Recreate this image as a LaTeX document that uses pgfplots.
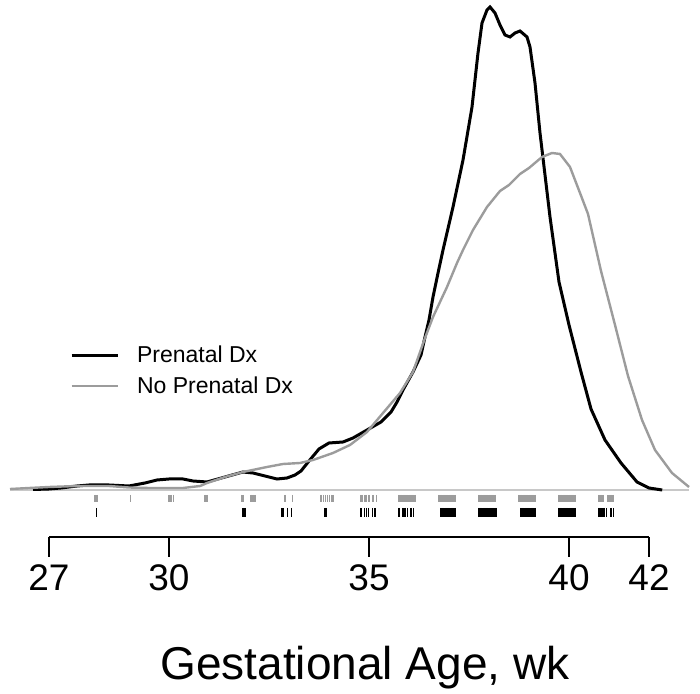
\documentclass[border=0pt]{standalone}
\usepackage{fontspec}
\setmainfont{Liberation Sans}
\usepackage{pgfplots}
\pgfplotsset{compat=1.18}
\definecolor{curvegray}{HTML}{9C9C9C}
\definecolor{zerogray}{HTML}{C8C8C8}
\begin{document}
\begin{tikzpicture}
\begin{axis}[
  at={(0pt,0pt)}, anchor=south west,
  width=350pt, height=347pt, scale only axis,
  xmin=25.775, xmax=43.275, ymin=-204, ymax=490,
  hide axis, clip=false,
  legend style={draw=none, fill=none, inner sep=0pt, outer sep=0pt,
    at={(axis cs:27.525,119)}, anchor=west,
    font=\fontsize{11.5}{13}\selectfont, row sep=1.4pt, cells={anchor=west},
    /tikz/every odd column/.append style={column sep=7pt}},
  legend image code/.code={\draw[#1] (0pt,0pt) -- (23pt,0pt);},
]
% zero line
\addplot[zerogray, line width=0.6pt, forget plot] coordinates {(26.025,0) (43.0,0)};
% Prenatal Dx density
\addplot[black, line width=1.5pt] coordinates {
(26.6,0.5) (27.0,1) (27.3,2) (27.7,4) (28.0,5) (28.5,5) (29.0,4) (29.4,7) (29.7,10)
(30.0,11) (30.35,11) (30.6,9) (30.95,8) (31.4,13) (31.85,18) (32.1,17) (32.4,14)
(32.7,11) (32.95,12) (33.15,15) (33.3,19) (33.5,29) (33.75,41) (34.0,47) (34.35,48)
(34.6,52) (34.95,60) (35.3,68) (35.55,78) (35.7,88) (35.85,100) (36.1,118) (36.3,135)
(36.4,153) (36.5,170) (36.6,193) (36.72,216) (36.85,240) (37.1,283) (37.35,330)
(37.575,383) (37.725,437) (37.825,467) (37.95,480) (38.025,483) (38.15,477)
(38.275,465) (38.4,455) (38.525,453) (38.65,457) (38.775,459) (38.95,453)
(39.025,443) (39.15,407) (39.275,357) (39.4,315) (39.525,273) (39.75,208)
(40.0,165) (40.3,118) (40.55,81) (40.9,50) (41.3,27) (41.7,8) (42.0,2) (42.33,0)
};
\addlegendentry{Prenatal Dx}
% No Prenatal Dx density
\addplot[curvegray, line width=1.2pt] coordinates {
(26.025,1) (26.5,2) (27.0,3) (27.7,4) (28.5,4) (29.0,2.5) (29.5,2) (30.35,2)
(30.78,4) (30.95,7) (31.4,13) (31.85,18) (32.45,23) (32.85,26) (33.275,27)
(33.6,30) (34.1,37) (34.525,45) (34.95,58) (35.35,77) (35.775,97) (36.1,118)
(36.4,152) (36.6,173) (36.95,203) (37.2,227) (37.35,240) (37.6,260) (37.95,283)
(38.275,299) (38.5,305) (38.775,316) (39.0,322) (39.325,333) (39.575,337)
(39.775,336) (40.025,323) (40.275,297) (40.475,276) (40.8,219) (41.15,165)
(41.475,114) (41.825,70) (42.15,40) (42.575,17) (43.0,3)
};
\addlegendentry{No Prenatal Dx}
% rug: No Prenatal Dx
\addplot[curvegray, only marks, mark=|, mark size=1.75pt, mark options={line width=0.6pt}, forget plot] coordinates {
(28.15,-8.5) (28.2,-8.5) (29.03,-8.5) (30.0,-8.5) (30.05,-8.5) (30.12,-8.5)
(30.9,-8.5) (30.95,-8.5) (31.82,-8.5) (31.85,-8.5) (32.05,-8.5) (32.1,-8.5) (32.15,-8.5)
(32.9,-8.5) (33.08,-8.5)
(33.78,-8.5) (33.82,-8.5) (33.86,-8.5) (33.92,-8.5) (33.97,-8.5) (34.02,-8.5) (34.06,-8.5) (34.1,-8.5)
(34.78,-8.5) (34.81,-8.5) (34.84,-8.5) (34.9,-8.5) (34.93,-8.5) (34.99,-8.5) (35.02,-8.5) (35.1,-8.5) (35.18,-8.5)
(35.73,-8.5) (35.76,-8.5) (35.79,-8.5) (35.82,-8.5) (35.85,-8.5) (35.88,-8.5) (35.91,-8.5) (35.94,-8.5)
(35.97,-8.5) (36.0,-8.5) (36.03,-8.5) (36.06,-8.5) (36.09,-8.5) (36.12,-8.5) (36.15,-8.5)
(36.73,-8.5) (36.76,-8.5) (36.79,-8.5) (36.82,-8.5) (36.85,-8.5) (36.88,-8.5) (36.91,-8.5) (36.94,-8.5)
(36.97,-8.5) (37.0,-8.5) (37.03,-8.5) (37.06,-8.5) (37.09,-8.5) (37.12,-8.5) (37.15,-8.5)
(37.73,-8.5) (37.76,-8.5) (37.79,-8.5) (37.82,-8.5) (37.85,-8.5) (37.88,-8.5) (37.91,-8.5) (37.94,-8.5)
(37.97,-8.5) (38.0,-8.5) (38.03,-8.5) (38.06,-8.5) (38.09,-8.5) (38.12,-8.5) (38.15,-8.5)
(38.73,-8.5) (38.76,-8.5) (38.79,-8.5) (38.82,-8.5) (38.85,-8.5) (38.88,-8.5) (38.91,-8.5) (38.94,-8.5)
(38.97,-8.5) (39.0,-8.5) (39.03,-8.5) (39.06,-8.5) (39.09,-8.5) (39.12,-8.5) (39.15,-8.5)
(39.73,-8.5) (39.76,-8.5) (39.79,-8.5) (39.82,-8.5) (39.85,-8.5) (39.88,-8.5) (39.91,-8.5) (39.94,-8.5)
(39.97,-8.5) (40.0,-8.5) (40.03,-8.5) (40.06,-8.5) (40.09,-8.5) (40.12,-8.5) (40.15,-8.5)
(40.73,-8.5) (40.76,-8.5) (40.79,-8.5) (40.82,-8.5) (40.85,-8.5) (40.97,-8.5) (41.0,-8.5) (41.03,-8.5)
(41.06,-8.5) (41.1,-8.5)
};
% rug: Prenatal Dx
\addplot[black, only marks, mark=|, mark size=2.25pt, mark options={line width=0.6pt}, forget plot] coordinates {
(28.18,-22.5) (31.85,-22.5) (31.9,-22.5) (32.82,-22.5) (32.85,-22.5) (32.97,-22.5) (33.07,-22.5)
(33.9,-22.5) (33.93,-22.5)
(34.78,-22.5) (34.81,-22.5) (34.88,-22.5) (34.93,-22.5) (34.98,-22.5) (35.09,-22.5) (35.15,-22.5)
(35.73,-22.5) (35.76,-22.5) (35.84,-22.5) (35.87,-22.5) (35.9,-22.5) (35.96,-22.5) (36.05,-22.5) (36.12,-22.5)
(36.78,-22.5) (36.81,-22.5) (36.84,-22.5) (36.87,-22.5) (36.9,-22.5) (36.93,-22.5) (36.96,-22.5)
(36.99,-22.5) (37.02,-22.5) (37.05,-22.5) (37.08,-22.5) (37.11,-22.5) (37.15,-22.5)
(37.73,-22.5) (37.76,-22.5) (37.79,-22.5) (37.82,-22.5) (37.85,-22.5) (37.88,-22.5) (37.91,-22.5) (37.94,-22.5)
(37.97,-22.5) (38.0,-22.5) (38.03,-22.5) (38.06,-22.5) (38.09,-22.5) (38.12,-22.5) (38.15,-22.5) (38.18,-22.5)
(38.78,-22.5) (38.81,-22.5) (38.84,-22.5) (38.87,-22.5) (38.9,-22.5) (38.93,-22.5) (38.96,-22.5)
(38.99,-22.5) (39.02,-22.5) (39.05,-22.5) (39.08,-22.5) (39.11,-22.5) (39.15,-22.5)
(39.73,-22.5) (39.76,-22.5) (39.79,-22.5) (39.82,-22.5) (39.85,-22.5) (39.88,-22.5) (39.91,-22.5) (39.94,-22.5)
(39.97,-22.5) (40.0,-22.5) (40.03,-22.5) (40.06,-22.5) (40.09,-22.5) (40.12,-22.5) (40.15,-22.5)
(40.73,-22.5) (40.76,-22.5) (40.79,-22.5) (40.82,-22.5) (40.85,-22.5) (40.88,-22.5) (40.93,-22.5)
(41.05,-22.5) (41.12,-22.5)
};
\node[anchor=base, font=\fontsize{23}{24}\selectfont] at (axis cs:34.9,-190) {Gestational Age, wk};
\end{axis}
\begin{axis}[
  at={(24.5pt,78.5pt)}, anchor=south west,
  width=300pt, height=20pt, scale only axis,
  xmin=27, xmax=42, ymin=0, ymax=1,
  axis x line=bottom, axis y line=none,
  x axis line style={-, line width=0.8pt},
  xtick={27,30,35,40,42}, ytick=\empty,
  tick align=outside, major tick length=10pt,
  xtick style={line width=0.8pt, black},
  xticklabel style={font=\fontsize{18.5}{18.5}\selectfont, yshift=-0.5pt},
  /pgf/number format/assume math mode=true,
]
\addplot[draw=none] coordinates {(27,0)};
\end{axis}
\pgfresetboundingbox
\path (0,0) rectangle (350pt,347pt);
\end{tikzpicture}
\end{document}
